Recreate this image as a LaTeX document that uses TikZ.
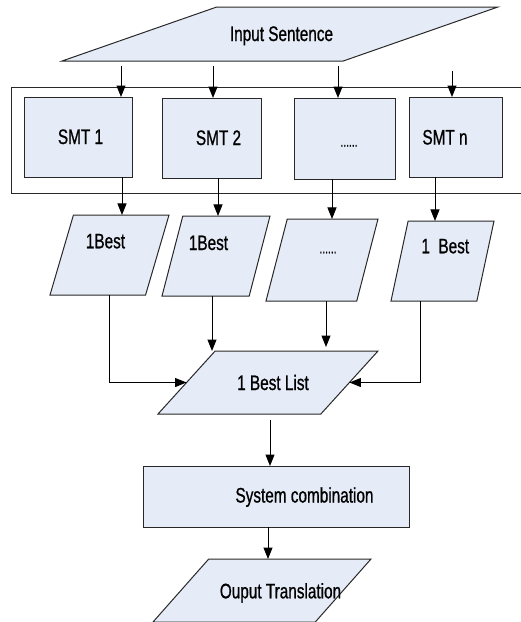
\documentclass[tikz,border=0pt]{standalone}
\usepackage{fontspec}
\setmainfont[FakeStretch=0.73,FakeBold=0.8]{Liberation Sans}
\usetikzlibrary{shapes.geometric,arrows.meta,calc}
\definecolor{boxfill}{RGB}{230,236,247}
\definecolor{edge}{RGB}{40,40,40}
\begin{document}
\begin{tikzpicture}[x=1pt,y=-1pt,
  rectbox/.style={draw=edge,fill=boxfill,line width=1pt,inner sep=0pt,outer sep=0pt},
  para/.style={trapezium,trapezium stretches=true,draw=edge,fill=boxfill,line width=1pt,inner sep=1pt,outer sep=0pt},
  lbl/.style={font=\fontsize{21}{25}\selectfont,anchor=base,inner sep=0pt},
  dotlbl/.style={font=\fontsize{14}{16}\selectfont,anchor=base,inner sep=0pt},
  arr/.style={draw=black,line width=1pt,-{Triangle[length=11.5pt,width=9pt]}}]
\clip (0,0) rectangle (521,622);
% input
\node[para,minimum width=436pt,minimum height=54pt,trapezium left angle=39.3,trapezium right angle=140.7] (in) at (280,34) {};
\node[lbl] (tin) at (281.5,41) {Input Sentence};
% frame
\node[draw=edge,line width=1pt,inner sep=0pt,outer sep=0pt,minimum width=519pt,minimum height=106pt,anchor=north west] (frame) at (11,87) {};
% SMT boxes
\node[rectbox,minimum width=108pt,minimum height=80pt] (smt1) at (78,137) {};
\node[rectbox,minimum width=99pt,minimum height=80pt] (smt2) at (211.5,138) {};
\node[rectbox,minimum width=101pt,minimum height=81pt] (smt3) at (344.5,138.5) {};
\node[rectbox,minimum width=93pt,minimum height=80pt] (smt4) at (455.5,137) {};
\node[lbl] (tsmt1) at (80.5,144) {SMT 1};
\node[lbl] (tsmt2) at (218.5,145) {SMT 2};
\node[dotlbl] (tsmt3) at (349,146.5) {......};
\node[lbl] (tsmt4) at (445,144.5) {SMT n};
% 1Best boxes
\node[para,minimum width=119pt,minimum height=80pt,trapezium left angle=72,trapezium right angle=108] (b1) at (109.5,255) {};
\node[para,minimum width=108pt,minimum height=80pt,trapezium left angle=72.6,trapezium right angle=107.4] (b2) at (216,256) {};
\node[para,minimum width=112pt,minimum height=82pt,trapezium left angle=73,trapezium right angle=107] (b3) at (322,260) {};
\node[para,minimum width=103pt,minimum height=80pt,trapezium left angle=76,trapezium right angle=104] (b4) at (442.5,261) {};
\node[lbl] (tb1) at (105.5,248.3) {1Best};
\node[lbl] (tb2) at (208.5,250) {1Best};
\node[dotlbl] (tb3) at (328,253.3) {......};
\node[lbl] (tb4) at (445.3,253.3) {1\ \ Best};
% list
\node[para,minimum width=220pt,minimum height=63pt,trapezium left angle=61.6,trapezium right angle=118.4] (list) at (268,382.5) {};
\node[lbl] (tlist) at (273,390) {1 Best List};
% system combination
\node[rectbox,minimum width=266pt,minimum height=61pt] (sys) at (276,496.5) {};
\node[lbl] (tsys) at (304.5,502.5) {System combination};
% output
\node[para,minimum width=218pt,minimum height=63pt,trapezium left angle=62.4,trapezium right angle=117.6] (out) at (262,590.5) {};
\node[lbl] (tout) at (280.5,598.3) {Ouput Translation};
% x positions of connectors
\coordinate (xa1) at (121,0); \coordinate (xa2) at (213,0);
\coordinate (xa3) at (338,0); \coordinate (xa4) at (452,0);
\coordinate (xb1) at (122,0); \coordinate (xb2) at (218,0);
\coordinate (xb3) at (332,0); \coordinate (xb4) at (435,0);
\coordinate (xc2) at (212,0); \coordinate (xc3) at (326,0);
\coordinate (xc4) at (420,0);
\coordinate (xd) at (270,0); \coordinate (xe) at (268,0);
% arrows input -> SMT
\draw[arr,shorten <=5pt] (in.south -| xa1) -- (xa1 |- smt1.north);
\draw[arr,shorten <=5pt] (in.south -| xa2) -- (xa2 |- smt2.north);
\draw[arr,shorten <=5pt] (in.south -| xa3) -- (xa3 |- smt3.north);
\draw[arr,shorten <=10pt] (in.south -| xa4) -- (xa4 |- smt4.north);
% SMT -> 1Best
\draw[arr] (xb1 |- smt1.south) -- (xb1 |- b1.north);
\draw[arr] (xb2 |- smt2.south) -- (xb2 |- b2.north);
\draw[arr] (xb3 |- smt3.south) -- (xb3 |- b3.north);
\draw[arr] (xb4 |- smt4.south) -- (xb4 |- b4.north);
% 1Best -> list
\draw[arr] (b1.south) |- (list.west);
\draw[arr] (xc2 |- b2.south) -- (xc2 |- list.north);
\draw[arr,shorten >=4pt] (xc3 |- b3.south) -- (xc3 |- list.north);
\draw[arr] (xc4 |- b4.south) |- (list.east);
% list -> system -> output
\draw[arr,shorten <=6pt] (xd |- list.south) -- (xd |- sys.north);
\draw[arr] (xe |- sys.south) -- (xe |- out.north);
\end{tikzpicture}
\end{document}
